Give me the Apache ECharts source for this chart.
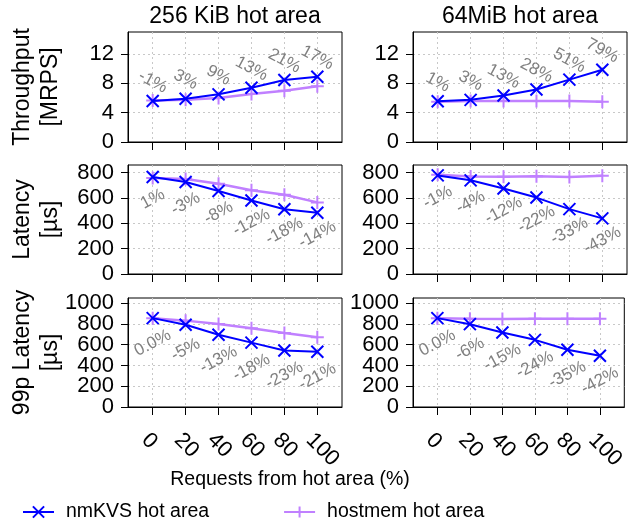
<!DOCTYPE html>
<html>
<head>
<meta charset="utf-8">
<script src="https://cdn.jsdelivr.net/npm/echarts@6/dist/echarts.min.js"></script>
<style>
  html, body { margin: 0; padding: 0; background: #fff; }
  #chart { width: 628px; height: 525px; }
</style>
</head>
<body>
<div id="chart"></div>
<script>
// ---- data ----
const categories = [0, 20, 40, 60, 80, 100];

const tput256_nm   = [5.6, 5.9, 6.5, 7.4, 8.45, 8.9];
const tput256_host = [5.65, 5.75, 6.0, 6.55, 7.0, 7.6];
const tput256_pct  = ['-1%', '3%', '9%', '13%', '21%', '17%'];

const tput64_nm    = [5.55, 5.75, 6.35, 7.15, 8.5, 9.85];
const tput64_host  = [5.5, 5.6, 5.6, 5.6, 5.6, 5.5];
const tput64_pct   = ['1%', '3%', '13%', '28%', '51%', '79%'];

const lat256_nm    = [765, 726, 655, 580, 511, 483];
const lat256_host  = [758, 750, 712, 660, 625, 565];
const lat256_pct   = ['1%', '-3%', '-8%', '-12%', '-18%', '-14%'];

const lat64_nm     = [778, 739, 674, 603, 512, 439];
const lat64_host   = [783, 770, 768, 772, 766, 776];
const lat64_pct    = ['-1%', '-4%', '-12%', '-22%', '-33%', '-43%'];

const p99_256_nm   = [856, 792, 696, 620, 545, 532];
const p99_256_host = [856, 832, 800, 758, 712, 672];
const p99_256_pct  = ['0.0%', '-5%', '-13%', '-18%', '-23%', '-21%'];

const p99_64_nm    = [856, 798, 718, 647, 551, 494];
const p99_64_host  = [856, 850, 848, 850, 850, 850];
const p99_64_pct   = ['0.0%', '-6%', '-15%', '-24%', '-35%', '-42%'];

const ticksTput = [0, 4, 8, 12];
const ticksLat  = [0, 200, 400, 600, 800];
const ticksP99  = [0, 200, 400, 600, 800, 1000];

const colTitles = ['256 KiB hot area', '64MiB hot area'];
const rowNames  = [['Throughput', '[MRPS]'], ['Latency', '[µs]'], ['99p Latency', '[µs]']];
const xName = 'Requests from hot area (%)';
const seriesNames = ['nmKVS hot area', 'hostmem hot area'];

// ---- layout ----
const FONT = 'Liberation Sans, Arial, Helvetica, sans-serif';
const colLeft = [128, 413];
const colWidth = 214;
const rowTop = [32, 165, 298];
const rowHeight = [110, 109, 109];
const yMax = [15, 860, 1050];
const yTicks = [ticksTput, ticksLat, ticksP99];

const panels = [
  [[tput256_nm, tput256_host, tput256_pct], [tput64_nm, tput64_host, tput64_pct]],
  [[lat256_nm, lat256_host, lat256_pct], [lat64_nm, lat64_host, lat64_pct]],
  [[p99_256_nm, p99_256_host, p99_256_pct], [p99_64_nm, p99_64_host, p99_64_pct]]
];

const BLUE = '#0000ff';
const PURPLE = '#c080ff';
const X_SYM = 'path://M0,0L10,10M10,0L0,10';
const P_SYM = 'path://M5,0L5,10M0,5L10,5';

const yLabelStyle = { margin: 14, fontSize: 22, fontFamily: FONT, color: '#000',
  showMinLabel: true, showMaxLabel: true, hideOverlap: false, formatter: v => String(v) };

const grids = [], xAxes = [], yAxes = [], yAxesAlt = [], series = [];
let idx = 0;
for (let r = 0; r < 3; r++) {
  for (let c = 0; c < 2; c++) {
    grids.push({
      left: colLeft[c], top: rowTop[r], width: colWidth, height: rowHeight[r],
      show: true, borderColor: '#000', borderWidth: 1, backgroundColor: 'transparent'
    });
    xAxes.push({
      type: 'value', gridIndex: idx, min: -15, max: 115,
      axisLine: { show: true, onZero: false, lineStyle: { color: '#000', width: 1 } },
      axisTick: { show: true, inside: false, length: 8, customValues: categories, lineStyle: { color: '#000', width: 1 } },
      axisLabel: {
        show: r === 2, customValues: categories, rotate: -45, margin: 22,
        align: 'left', verticalAlign: 'top', interval: 0, hideOverlap: false,
        fontSize: 22, fontFamily: FONT, color: '#000',
        formatter: v => String(v)
      },
      splitLine: { show: true, lineStyle: { color: '#c8c8c8', type: [2, 3], width: 1 } }
    });
    const ticks = yTicks[r];
    // main axis: line, ticks, grid, every other label
    yAxes.push({
      type: 'value', gridIndex: idx, min: 0, max: yMax[r],
      axisLine: { show: true, onZero: false, lineStyle: { color: '#000', width: 1 } },
      axisTick: { show: true, inside: false, length: 7, customValues: ticks, lineStyle: { color: '#000', width: 1 } },
      axisLabel: Object.assign({ customValues: ticks.filter((v, i) => i % 2 === 0) }, yLabelStyle),
      splitLine: { show: true, lineStyle: { color: '#c8c8c8', type: [2, 3], width: 1 } }
    });
    // companion axis: remaining labels only
    yAxesAlt.push({
      type: 'value', gridIndex: idx, min: 0, max: yMax[r], position: 'left',
      axisLine: { show: false, onZero: false }, axisTick: { show: false }, splitLine: { show: false },
      axisLabel: Object.assign({ customValues: ticks.filter((v, i) => i % 2 === 1) }, yLabelStyle)
    });
    const [nm, host, pct] = panels[r][c];
    const above = r === 0;
    series.push({
      name: seriesNames[1], type: 'line', xAxisIndex: idx, yAxisIndex: idx,
      data: categories.map((x, i) => [x, host[i]]),
      symbol: P_SYM, symbolSize: 13, showAllSymbol: true,
      lineStyle: { color: PURPLE, width: 2.5 },
      itemStyle: { color: PURPLE, borderColor: PURPLE, borderWidth: 2 },
      z: 2, silent: true
    });
    series.push({
      name: seriesNames[0], type: 'line', xAxisIndex: idx, yAxisIndex: idx,
      data: categories.map((x, i) => [x, nm[i]]),
      symbol: X_SYM, symbolSize: 12, showAllSymbol: true,
      lineStyle: { color: BLUE, width: 2 },
      itemStyle: { color: BLUE, borderColor: BLUE, borderWidth: 2 },
      label: {
        show: true,
        position: above ? 'top' : 'bottom',
        distance: above ? 12 : (r === 1 ? 15 : 18),
        rotate: above ? -28 : 28,
        align: 'center', verticalAlign: 'middle',
        fontSize: 17, fontFamily: FONT, color: '#808080',
        formatter: p => pct[p.dataIndex]
      },
      z: 3, silent: true
    });
    idx++;
  }
}

const graphics = [];
for (let c = 0; c < 2; c++) {
  graphics.push({
    type: 'text', x: colLeft[c] + colWidth / 2, y: 17,
    style: { text: colTitles[c], font: '23px ' + FONT, fill: '#000', textAlign: 'center', textVerticalAlign: 'middle' }
  });
}
const nameLineX = [23, 51];
for (let r = 0; r < 3; r++) {
  rowNames[r].forEach((line, k) => {
    graphics.push({
      type: 'text', x: nameLineX[k], y: rowTop[r] + rowHeight[r] / 2, rotation: Math.PI / 2,
      style: { text: line, font: '23px ' + FONT, fill: '#000', textAlign: 'center', textVerticalAlign: 'middle' }
    });
  });
}
graphics.push({
  type: 'text', x: 290, y: 480,
  style: { text: xName, font: '19.5px ' + FONT, fill: '#000', textAlign: 'center', textVerticalAlign: 'middle' }
});

const chart = echarts.init(document.getElementById('chart'), null, { renderer: 'canvas' });
chart.setOption({
  animation: false,
  backgroundColor: '#fff',
  grid: grids,
  xAxis: xAxes,
  yAxis: yAxes.concat(yAxesAlt),
  series: series,
  graphic: graphics,
  legend: {
    data: seriesNames,
    left: 17, top: 497,
    itemWidth: 31, itemHeight: 14, itemGap: 74,
    textStyle: { fontSize: 19.5, fontFamily: FONT, color: '#000', padding: [0, 0, 0, 7] }
  }
});
</script>
</body>
</html>
